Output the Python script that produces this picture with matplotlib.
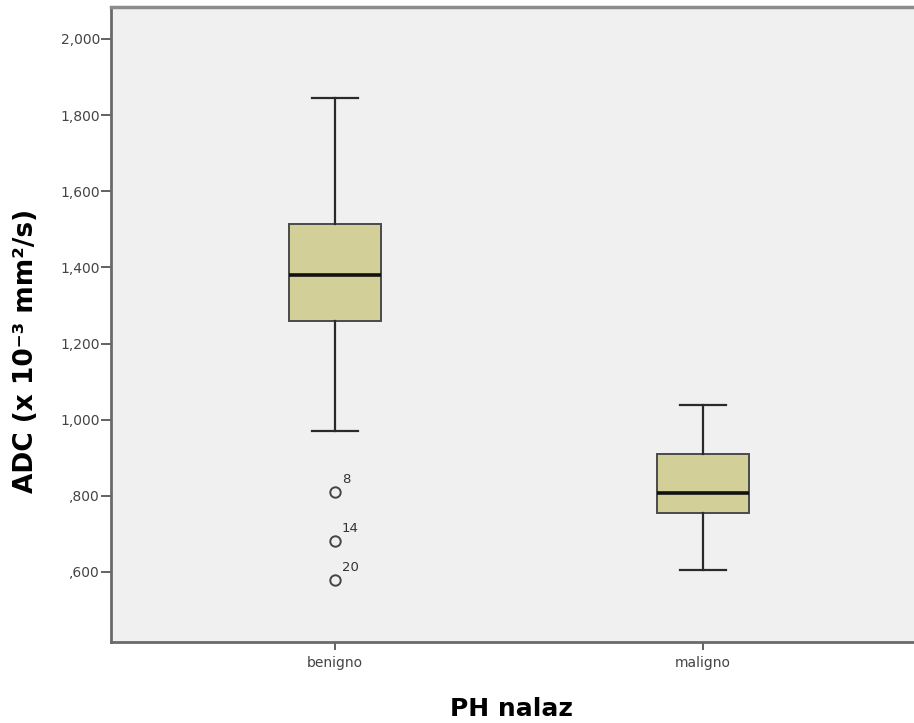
import matplotlib
matplotlib.use("Agg")
import matplotlib.pyplot as plt

plt.rcParams['font.family'] = ['DejaVu Sans']

# Data
categories = ['benigno', 'maligno']
whisker_low = [0.969, 0.604]
q1 = [1.260, 0.756]
median = [1.381, 0.808]
q3 = [1.514, 0.911]
whisker_high = [1.845, 1.039]
outliers = [[0.811, 0.682, 0.579], []]
outlier_ids = [['8', '14', '20'], []]
ytick_values = [0.6, 0.8, 1.0, 1.2, 1.4, 1.6, 1.8, 2.0]
ytick_labels = [',600', ',800', '1,000', '1,200', '1,400', '1,600', '1,800', '2,000']

fig = plt.figure(figsize=(9.14, 7.23), dpi=100)
ax = fig.add_axes([111/914, 81/723, 1 - 111/914, (642-7)/723])
ax.set_facecolor('#f0f0f0')

stats = []
for i, c in enumerate(categories):
    stats.append(dict(label=c, whislo=whisker_low[i], q1=q1[i], med=median[i],
                      q3=q3[i], whishi=whisker_high[i], fliers=outliers[i]))

positions = [1, 2]
ax.bxp(stats, positions=positions, widths=0.25, patch_artist=True,
       boxprops=dict(facecolor='#d3cf98', edgecolor='#4a4a4a', linewidth=1.4),
       medianprops=dict(color='#111111', linewidth=2.6),
       whiskerprops=dict(color='#2a2a2a', linewidth=1.6),
       capprops=dict(color='#2a2a2a', linewidth=1.6),
       capwidths=0.125,
       flierprops=dict(marker='o', markersize=7.5, markerfacecolor='none',
                       markeredgecolor='#444444', markeredgewidth=1.4))

for i, (vals, ids) in enumerate(zip(outliers, outlier_ids)):
    for v, t in zip(vals, ids):
        ax.annotate(t, (positions[i], v), xytext=(5, 4), textcoords='offset points',
                    fontsize=9.5, color='#333333', ha='left', va='bottom')

ax.set_xlim(0.3913, 2.5734)
ax.set_ylim(0.416, 2.084)
ax.set_yticks(ytick_values)
ax.set_yticklabels(ytick_labels)
ax.set_xticks(positions)
ax.set_xticklabels(categories)
ax.tick_params(axis='y', labelsize=10, colors='#555555', labelcolor='#444444',
               length=7, width=1.3, pad=1)
ax.tick_params(axis='x', labelsize=10, colors='#555555', labelcolor='#444444',
               length=6, width=1.3, pad=4)

for s in ['left', 'bottom']:
    ax.spines[s].set_color('#6a6a6a')
    ax.spines[s].set_linewidth(2)
ax.spines['top'].set_color('#8c8c8c')
ax.spines['top'].set_linewidth(2.5)
ax.spines['right'].set_visible(False)

fig.text(26/914, 1 - 351/723, 'ADC (x 10\u207b\u00b3 mm\u00b2/s)',
         rotation=90, ha='center', va='center', fontsize=19, fontweight='bold')
fig.text(512/914, 1 - 716/723, 'PH nalaz', ha='center', va='baseline',
         fontsize=18, fontweight='bold')

fig.savefig('out.png', dpi=100)
